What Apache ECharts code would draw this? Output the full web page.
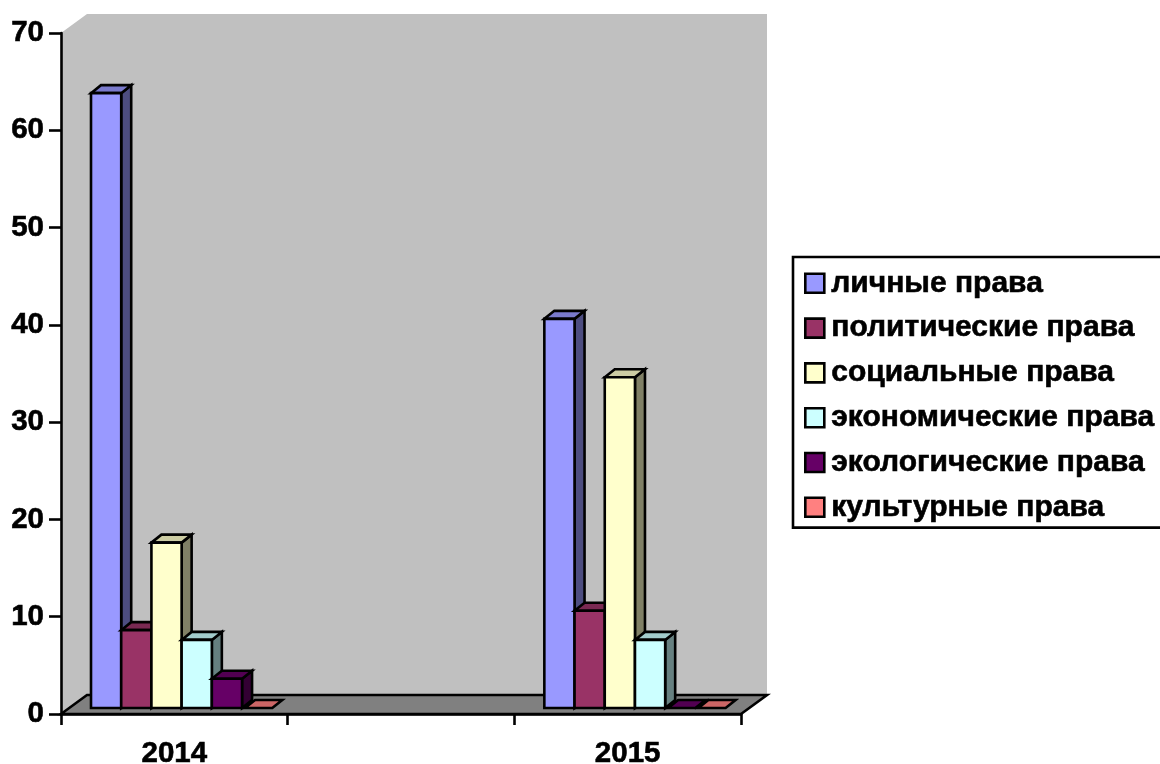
<!DOCTYPE html>
<html>
<head>
<meta charset="utf-8">
<style>html,body{margin:0;padding:0;background:#fff;overflow:hidden}#c{width:1160px;height:764px}</style>
<script src="https://cdn.jsdelivr.net/npm/echarts@6/dist/echarts.min.js"></script>
</head>
<body>
<div id="c"></div>
<script>
const categories = ['2014', '', '2015'];
const tickValues = [0, 10, 20, 30, 40, 50, 60, 70];
const seriesNames = ['личные права', 'политические права', 'социальные права', 'экономические права', 'экологические права', 'культурные права'];
const lichnye = [63.2, null, 40];
const politicheskie = [8, null, 10];
const socialnye = [17, null, 34];
const ekonomicheskie = [7, null, 7];
const ekologicheskie = [3, null, 0];
const kulturnye = [0, null, 0];
const palette = ['#9999FF', '#993366', '#FFFFCC', '#CCFFFF', '#660066', '#FF8080'];
const values = [lichnye, politicheskie, socialnye, ekonomicheskie, ekologicheskie, kulturnye];

const FONT = '"Liberation Sans", Arial, sans-serif';
const DX = 26, DY = 19;      // chart box depth
const BX = 10, BY = 8;       // bar depth
const FLOOR_INSET = 6;       // bar base above axis line
const GROUP_PAD = 30;        // first bar offset inside a category band

function shade(hex, k) {
  const n = parseInt(hex.slice(1), 16);
  const c = [(n >> 16) & 255, (n >> 8) & 255, n & 255].map(v => Math.round(v * k));
  return 'rgb(' + c.join(',') + ')';
}
const lineStyle = { stroke: '#000', lineWidth: 2.6, lineJoin: 'miter' };
const heavy = { textBorderColor: '#000', textBorderWidth: 0.6 };

function renderWall(params) {
  const g = params.coordSys;
  const l = g.x, t = g.y, r = g.x + g.width, b = g.y + g.height;
  return { type: 'group', children: [
    { type: 'polygon', shape: { points: [[l, t], [l + DX, t - DY], [r + DX, t - DY], [r + DX, b - DY], [l + DX, b - DY], [l, b]] }, style: { fill: '#C0C0C0' } },
    { type: 'polygon', shape: { points: [[l, b], [l + DX, b - DY], [r + DX, b - DY], [r, b]] }, style: Object.assign({ fill: '#808080' }, lineStyle) }
  ]};
}

function barRenderer(idx) {
  return function (params, api) {
    const v = api.value(1);
    if (v === null || v === undefined || isNaN(v)) return;
    const cat = api.value(0);
    const band = api.size([1, 0])[0];
    const barW = (band - 2 * 22.7) / seriesNames.length;
    const base = api.coord([cat, 0]);
    const tip = api.coord([cat, v]);
    const x0 = base[0] - band / 2 + GROUP_PAD + idx * barW;
    const x1 = x0 + barW;
    const y0 = base[1] - FLOOR_INSET;
    const y1 = tip[1] - FLOOR_INSET;
    const col = palette[idx];
    if (v === 0) {
      return { type: 'polygon', shape: { points: [[x0 + 3, y0], [x1, y0], [x1 + BX, y0 - BY], [x0 + 3 + BX, y0 - BY]] },
        style: Object.assign({ fill: shade(col, 0.8) }, lineStyle) };
    }
    return { type: 'group', children: [
      { type: 'polygon', shape: { points: [[x1, y1], [x1 + BX, y1 - BY], [x1 + BX, y0 - BY], [x1, y0]] }, style: Object.assign({ fill: shade(col, 0.5) }, lineStyle) },
      { type: 'polygon', shape: { points: [[x0, y1], [x0 + BX, y1 - BY], [x1 + BX, y1 - BY], [x1, y1]] }, style: Object.assign({ fill: shade(col, 0.8) }, lineStyle) },
      { type: 'rect', shape: { x: x0, y: y1, width: barW, height: y0 - y1 }, style: Object.assign({ fill: col }, lineStyle) }
    ]};
  };
}

const series = [{
  type: 'custom', name: '_wall', coordinateSystem: 'cartesian2d', z: 1, silent: true,
  data: [[0, 0]], renderItem: renderWall, encode: { x: 0, y: 1 }, clip: false
}];
seriesNames.forEach((name, i) => {
  series.push({
    type: 'custom', name, coordinateSystem: 'cartesian2d', z: 2 + i * 0.01, clip: false,
    itemStyle: { color: palette[i] },
    encode: { x: 0, y: 1 },
    data: values[i].map((v, c) => [c, v]),
    renderItem: barRenderer(i)
  });
});

const chart = echarts.init(document.getElementById('c'), null, { renderer: 'canvas' });
chart.setOption({
  animation: false,
  backgroundColor: '#fff',
  grid: { left: 61, top: 33, width: 680, height: 681, containLabel: false, outerBoundsMode: 'none' },
  legend: {
    data: seriesNames, orient: 'vertical', left: 793, top: 257,
    padding: [11, 14, 5, 11], itemGap: 14.2, itemWidth: 19, itemHeight: 19,
    borderColor: '#000', borderWidth: 2.6, borderRadius: 0, backgroundColor: '#fff',
    icon: 'rect', selectedMode: false,
    itemStyle: { borderColor: '#000', borderWidth: 2.6 },
    textStyle: Object.assign({ fontFamily: FONT, fontWeight: 'bold', fontSize: 30, color: '#000', padding: [0, 0, 0, 2] }, heavy)
  },
  xAxis: {
    type: 'category', data: categories, z: 3,
    axisLine: { show: true, lineStyle: { color: '#000', width: 2.6 } },
    axisTick: { show: true, alignWithLabel: false, length: 11, lineStyle: { color: '#000', width: 2.6 } },
    axisLabel: Object.assign({ margin: 25, fontFamily: FONT, fontWeight: 'bold', fontSize: 29.5, color: '#000' }, heavy),
    splitLine: { show: false }
  },
  yAxis: {
    type: 'value', min: tickValues[0], max: tickValues[tickValues.length - 1], interval: 10, z: 3,
    axisLine: { show: true, lineStyle: { color: '#000', width: 2.6 } },
    axisTick: { show: true, length: 12, lineStyle: { color: '#000', width: 2.6 } },
    axisLabel: Object.assign({ margin: 17, fontFamily: FONT, fontWeight: 'bold', fontSize: 29.5, color: '#000', verticalAlignMaxLabel: 'middle' }, heavy),
    splitLine: { show: false }
  },
  series
});
</script>
</body>
</html>
